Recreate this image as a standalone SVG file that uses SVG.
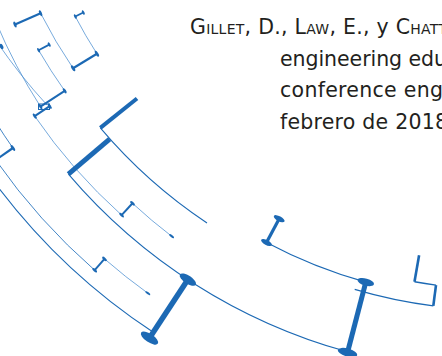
<svg xmlns="http://www.w3.org/2000/svg" width="442" height="356" viewBox="0 0 442 356">
<style>
.t{font-family:"DejaVu Sans","Liberation Sans",sans-serif;font-size:20.5px;fill:#231f20}
.sc{font-variant:small-caps}
.dk{fill:none;stroke:#1c69b4;stroke-width:1.1}
.lt{fill:none;stroke:#4a8dd0;stroke-width:0.75}
.md{fill:none;stroke:#2f78c0;stroke-width:0.9}
.bar{stroke:#1c69b4;fill:none;stroke-linecap:butt}
.cap{fill:#1c69b4}
</style>
<rect width="442" height="356" fill="#ffffff"/>
<g id="text">
<text class="t" x="190" y="34" textLength="257" lengthAdjust="spacing"><tspan class="sc">Gillet, D., Law, E., </tspan>y <tspan class="sc">Chatt</tspan></text>
<text class="t" x="280" y="65.5" textLength="167" lengthAdjust="spacing">engineering edu</text>
<text class="t" x="280" y="97" textLength="163" lengthAdjust="spacing">conference eng</text>
<text class="t" x="280" y="128.5" textLength="168" lengthAdjust="spacing">febrero de 2018</text>
</g>
<g id="connectors">
<path class="lt" d="M40.6 13.2 A498 498 0 0 0 73.1 68.3"/>
<path class="lt" d="M96.9 53.7 A469.5 469.5 0 0 1 75.3 16.5"/>
<path class="lt" d="M38.6 50.2 A517 517 0 0 0 64.7 90.8"/>
<path class="lt" d="M-4 22 A545 545 0 0 0 40.5 106.6"/>
<path class="lt" d="M-3 42 A545 545 0 0 0 47 105"/>
<path class="lt" d="M34.7 116.1 A553 553 0 0 0 121.6 215.1"/>
<path class="lt" d="M132.5 203.3 A537 537 0 0 0 171.6 236.2"/>
<path class="md" d="M-4.3 160 A612 612 0 0 0 94.7 270.2"/>
<path class="lt" d="M104.5 258.9 A597 597 0 0 0 147.8 293.2"/>
<path class="md" d="M-4.2 122.2 A591 591 0 0 0 12.9 148"/>
<path class="dk" d="M-6.2 181.3 A626 626 0 0 0 153.3 332.2"/>
<path class="dk" d="M100.3 127.9 A509 509 0 0 0 207 223"/>
<path class="dk" d="M68.4 174.1 A563 563 0 0 0 347.5 351.8"/>
<path class="dk" d="M266.5 242.5 A491 491 0 0 0 365.8 282.1"/>
<path class="dk" d="M354.7 289.4 A501 501 0 0 0 433.3 305.9"/>
<path class="dk" style="stroke-width:1.4" d="M436 285.1 A480 480 0 0 1 414.5 281.8"/>
</g>
<g id="bars">
<line class="bar" x1="15" y1="24.6" x2="40.6" y2="13.2" stroke-width="2.2"/>
<line class="bar" x1="73.1" y1="68.3" x2="96.9" y2="53.7" stroke-width="2.2"/>
<line class="bar" x1="75.3" y1="16.5" x2="83.3" y2="12.5" stroke-width="1.8"/>
<line class="bar" x1="38.6" y1="50.2" x2="49.2" y2="44.6" stroke-width="1.8"/>
<line class="bar" x1="64.7" y1="90.8" x2="40.5" y2="106.6" stroke-width="2"/>
<line class="bar" x1="49.7" y1="106.2" x2="34.7" y2="116.1" stroke-width="2"/>
<rect class="bar" x="38.5" y="104" width="11" height="5.5" stroke-width="1"/>
<line class="bar" x1="-4.3" y1="160" x2="12.9" y2="148" stroke-width="2.2"/>
<line class="bar" x1="100.3" y1="127.9" x2="137" y2="98.5" stroke-width="4"/>
<line class="bar" x1="68.4" y1="174.1" x2="109.6" y2="139.1" stroke-width="5"/>
<line class="bar" x1="121.6" y1="215.1" x2="132.5" y2="203.3" stroke-width="2"/>
<line class="bar" x1="94.7" y1="270.2" x2="104.5" y2="258.9" stroke-width="2"/>
<line class="bar" x1="187.9" y1="279.6" x2="149.5" y2="338.1" stroke-width="5.5"/>
<line class="bar" x1="266.5" y1="242.5" x2="279.2" y2="218.7" stroke-width="3.2"/>
<line class="bar" x1="365.8" y1="282.1" x2="347.5" y2="352.5" stroke-width="5"/>
<line class="bar" x1="433.3" y1="305.9" x2="436" y2="285.1" stroke-width="2.6"/>
<line class="bar" x1="414.5" y1="281.8" x2="419.1" y2="255.3" stroke-width="2.6"/>
</g>
<g id="caps">
<ellipse class="cap" cx="0" cy="0" rx="3.2" ry="1.3" transform="translate(15 24.6) rotate(65.9)"/>
<ellipse class="cap" cx="0" cy="0" rx="3.2" ry="1.3" transform="translate(40.6 13.2) rotate(65.9)"/>
<ellipse class="cap" cx="0" cy="0" rx="3.4" ry="1.4" transform="translate(73.1 68.3) rotate(58.5)"/>
<ellipse class="cap" cx="0" cy="0" rx="3.4" ry="1.4" transform="translate(96.9 53.7) rotate(58.5)"/>
<ellipse class="cap" cx="0" cy="0" rx="2.5" ry="1.1" transform="translate(75.3 16.5) rotate(63.8)"/>
<ellipse class="cap" cx="0" cy="0" rx="2.5" ry="1.1" transform="translate(83.3 12.5) rotate(63.8)"/>
<ellipse class="cap" cx="0" cy="0" rx="2.5" ry="1.1" transform="translate(38.6 50.2) rotate(62.2)"/>
<ellipse class="cap" cx="0" cy="0" rx="2.5" ry="1.1" transform="translate(49.2 44.6) rotate(62.2)"/>
<ellipse class="cap" cx="0" cy="0" rx="3" ry="1.3" transform="translate(64.7 90.8) rotate(56.9)"/>
<ellipse class="cap" cx="0" cy="0" rx="3" ry="1.3" transform="translate(40.5 106.6) rotate(56.9)"/>
<ellipse class="cap" cx="0" cy="0" rx="3" ry="1.3" transform="translate(49.7 106.2) rotate(56.4)"/>
<ellipse class="cap" cx="0" cy="0" rx="3" ry="1.3" transform="translate(34.7 116.1) rotate(56.4)"/>
<ellipse class="cap" cx="0" cy="0" rx="2.8" ry="1.6" transform="translate(1.5 46.5) rotate(64)"/>
<ellipse class="cap" cx="0" cy="0" rx="3.4" ry="1.4" transform="translate(12.9 148) rotate(55)"/>
<ellipse class="cap" cx="0" cy="0" rx="3" ry="1.3" transform="translate(121.6 215.1) rotate(42.7)"/>
<ellipse class="cap" cx="0" cy="0" rx="3" ry="1.3" transform="translate(132.5 203.3) rotate(42.7)"/>
<ellipse class="cap" cx="0" cy="0" rx="3" ry="1.3" transform="translate(94.7 270.2) rotate(41.1)"/>
<ellipse class="cap" cx="0" cy="0" rx="3" ry="1.3" transform="translate(104.5 258.9) rotate(41.1)"/>
<ellipse class="cap" cx="0" cy="0" rx="3" ry="1.1" transform="translate(171.6 236.2) rotate(37.3)"/>
<ellipse class="cap" cx="0" cy="0" rx="3" ry="1.1" transform="translate(147.8 293.2) rotate(35.8)"/>
<ellipse class="cap" cx="0" cy="0" rx="9.5" ry="4" transform="translate(187.9 279.6) rotate(33.3)"/>
<ellipse class="cap" cx="0" cy="0" rx="10" ry="4.2" transform="translate(149.5 338.1) rotate(33.3)"/>
<ellipse class="cap" cx="0" cy="0" rx="6" ry="2.5" transform="translate(266.5 242.5) rotate(28)"/>
<ellipse class="cap" cx="0" cy="0" rx="6" ry="2.5" transform="translate(279.2 218.7) rotate(28)"/>
<ellipse class="cap" cx="0" cy="0" rx="8.5" ry="3.5" transform="translate(365.8 282.1) rotate(15.5)"/>
<ellipse class="cap" cx="0" cy="0" rx="10" ry="4" transform="translate(347.5 352.5) rotate(15.5)"/>
</g>
</svg>
